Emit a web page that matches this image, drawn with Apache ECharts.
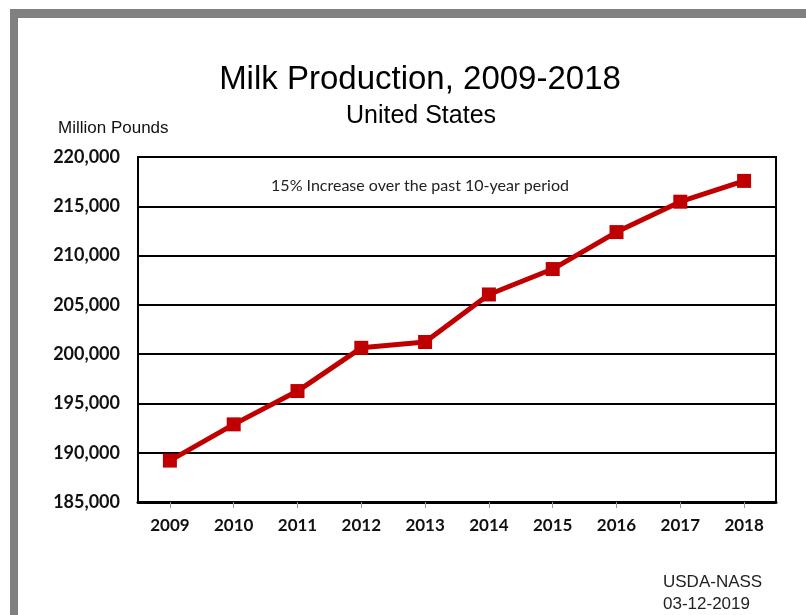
<!DOCTYPE html>
<html>
<head>
<meta charset="utf-8">
<script src="https://cdn.jsdelivr.net/npm/echarts@6/dist/echarts.min.js"></script>
<style>
html,body{margin:0;padding:0;background:#fff;}
#chart{width:806px;height:615px;}
</style>
</head>
<body>
<div id="chart"></div>
<script>
var years = ['2009','2010','2011','2012','2013','2014','2015','2016','2017','2018'];
var milkProduction = [189202, 192877, 196255, 200642, 201231, 206054, 208633, 212383, 215466, 217575];
var yTicks = [185000, 190000, 195000, 200000, 205000, 210000, 215000, 220000];

var chart = echarts.init(document.getElementById('chart'));
chart.setOption({
  backgroundColor: '#ffffff',
  animation: false,
  grid: {
    left: 138, right: 30, top: 157, bottom: 113,
    show: true, borderColor: '#000', borderWidth: 2, backgroundColor: 'transparent'
  },
  xAxis: {
    type: 'category',
    data: years,
    boundaryGap: true,
    axisLine: { show: true, lineStyle: { color: '#000', width: 3 } },
    axisTick: { show: true, alignWithLabel: true, length: 6, lineStyle: { color: '#999', width: 1 } },
    axisLabel: { color: '#111', fontFamily: 'Lato', fontWeight: 'bold', fontSize: 17, margin: 15 }
  },
  yAxis: {
    type: 'value',
    min: yTicks[0],
    max: yTicks[yTicks.length - 1],
    interval: 5000,
    axisLine: { show: true, lineStyle: { color: '#000', width: 2 } },
    axisTick: { show: false },
    splitLine: { show: true, lineStyle: { color: '#000', width: 2 } },
    axisLabel: {
      color: '#111', fontFamily: 'Lato', fontWeight: 'bold', fontSize: 18, margin: 18,
      formatter: function (v) { return v.toLocaleString('en-US'); }
    }
  },
  series: [{
    type: 'line',
    data: milkProduction,
    symbol: 'rect',
    symbolSize: 14,
    lineStyle: { color: '#c00000', width: 5 },
    itemStyle: { color: '#c00000' },
    z: 5
  }],
  graphic: [
    { type: 'rect', shape: { x: 10, y: 9, width: 796, height: 9 }, style: { fill: '#808080' } },
    { type: 'rect', shape: { x: 10, y: 9, width: 8, height: 606 }, style: { fill: '#808080' } },
    { type: 'text', style: { x: 420, y: 80, text: 'Milk Production, 2009-2018', textAlign: 'center', textVerticalAlign: 'middle', font: '33px "Liberation Sans", Arial, sans-serif', fill: '#000' } },
    { type: 'text', style: { x: 421, y: 116, text: 'United States', textAlign: 'center', textVerticalAlign: 'middle', font: '25px "Liberation Sans", Arial, sans-serif', fill: '#000' } },
    { type: 'text', style: { x: 58, y: 128, text: 'Million Pounds', textAlign: 'left', textVerticalAlign: 'middle', font: '17px "Liberation Sans", Arial, sans-serif', fill: '#111' } },
    { type: 'text', style: { x: 420, y: 186, text: '15% Increase over the past 10-year period', textAlign: 'center', textVerticalAlign: 'middle', font: '16px Lato, sans-serif', fill: '#222' } },
    { type: 'text', style: { x: 663, y: 582, text: 'USDA-NASS', textAlign: 'left', textVerticalAlign: 'middle', font: '17px "Liberation Sans", Arial, sans-serif', fill: '#222' } },
    { type: 'text', style: { x: 663, y: 604, text: '03-12-2019', textAlign: 'left', textVerticalAlign: 'middle', font: '17px "Liberation Sans", Arial, sans-serif', fill: '#222' } }
  ]
});
</script>
</body>
</html>
